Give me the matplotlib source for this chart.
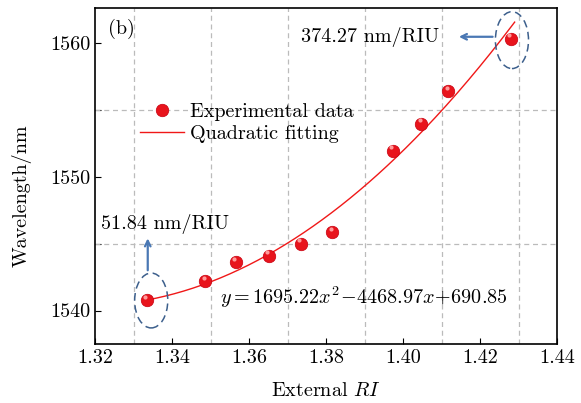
import numpy as np
import matplotlib
matplotlib.use("Agg")
import matplotlib.pyplot as plt
from matplotlib.patches import Ellipse

plt.rcParams['font.family'] = 'serif'
plt.rcParams['font.serif'] = ['cmr10']
plt.rcParams['mathtext.fontset'] = 'cm'
plt.rcParams['axes.unicode_minus'] = False
plt.rcParams['axes.formatter.use_mathtext'] = True

ri = [1.3334, 1.3486, 1.3566, 1.3652, 1.3735, 1.3816, 1.3974, 1.4047, 1.4117, 1.4280]
wavelength = [1540.75, 1542.2, 1543.6, 1544.1, 1545.0, 1545.85, 1551.95, 1553.95, 1556.4, 1560.3]
xticks = [1.32, 1.34, 1.36, 1.38, 1.40, 1.42, 1.44]
yticks = [1540, 1545, 1550, 1555, 1560]
ytick_labels = ['1540', '', '1550', '', '1560']

FS = 14.5
fig = plt.figure(figsize=(5.81, 4.03), dpi=100)
ax = fig.add_axes([95/581, 1-344/403, 462/581, 336/403])

coef = np.polyfit(ri, wavelength, 2)
xf = np.linspace(ri[0], ri[-1] + 0.001, 200)
fit_line, = ax.plot(xf, np.polyval(coef, xf), color='#f01818', lw=1.0, label='Quadratic fitting', zorder=3)
pts, = ax.plot(ri, wavelength, 'o', ms=9, color='#e8141c', mec='#c80010', mew=0.5,
               label='Experimental data', zorder=4)
ax.plot(np.array(ri) - 0.0004, np.array(wavelength) + 0.25, 'o', ms=3, color='#ff9a9a',
        mew=0, zorder=5)

ax.set_xlim(1.32, 1.44)
ax.set_ylim(1537.5, 1562.6)
ax.yaxis.remove_overlapping_locs = False
ax.set_xticks(xticks)
ax.set_xticklabels(['%.2f' % v for v in xticks])
ax.set_yticks(yticks)
ax.set_yticklabels(ytick_labels)
ax.set_yticks([1545, 1555], minor=True)
ax.set_xticks([1.33, 1.35, 1.37, 1.39, 1.41, 1.43], minor=True)
ax.tick_params(which='minor', length=0)
ax.tick_params(which='major', direction='in', length=4, labelsize=FS)
ax.grid(which='minor', ls=(0, (4, 3)), color='#bbbbbb', lw=0.9)
for s in ax.spines.values():
    s.set_linewidth(1.2)

ax.set_xlabel('External $\\mathit{RI}$', fontsize=FS, labelpad=11)
ax.set_ylabel('Wavelength/nm', fontsize=FS)
ax.yaxis.set_label_coords(-0.137, 0.44)

leg = ax.legend(handles=[pts, fit_line], loc='upper left', bbox_to_anchor=(0.067, 0.76), frameon=False,
                fontsize=FS, handlelength=2.2, borderpad=0.2, labelspacing=0.22, handletextpad=0.3)

ax.text(1.3235, 1561.0, '(b)', fontsize=FS, va='center')
ax.text(1.4094, 1560.4, '374.27 nm/RIU', fontsize=FS, va='center', ha='right')
ax.text(1.3215, 1546.5, '51.84 nm/RIU', fontsize=FS, va='center', ha='left')
ax.text(1.3525, 1541.0, '$y=1695.22x^2\\!-\\!4468.97x\\!+\\!690.85$', fontsize=FS, va='center')

ell_col = '#3c5f8c'
ax.add_patch(Ellipse((1.3346, 1540.75), 0.0086, 4.1, fill=False, ls=(0, (5, 3)), lw=1.1, ec=ell_col, zorder=6))
ax.add_patch(Ellipse((1.4283, 1560.2), 0.0086, 4.25, fill=False, ls=(0, (5, 3)), lw=1.1, ec=ell_col, zorder=6))

arr_col = '#4a78b4'
ax.annotate('', xy=(1.3337, 1545.6), xytext=(1.3337, 1542.8),
            arrowprops=dict(arrowstyle='->', color=arr_col, lw=1.6))
ax.annotate('', xy=(1.4138, 1560.45), xytext=(1.4240, 1560.45),
            arrowprops=dict(arrowstyle='->', color=arr_col, lw=1.6))

fig.savefig('out.png', dpi=100)
